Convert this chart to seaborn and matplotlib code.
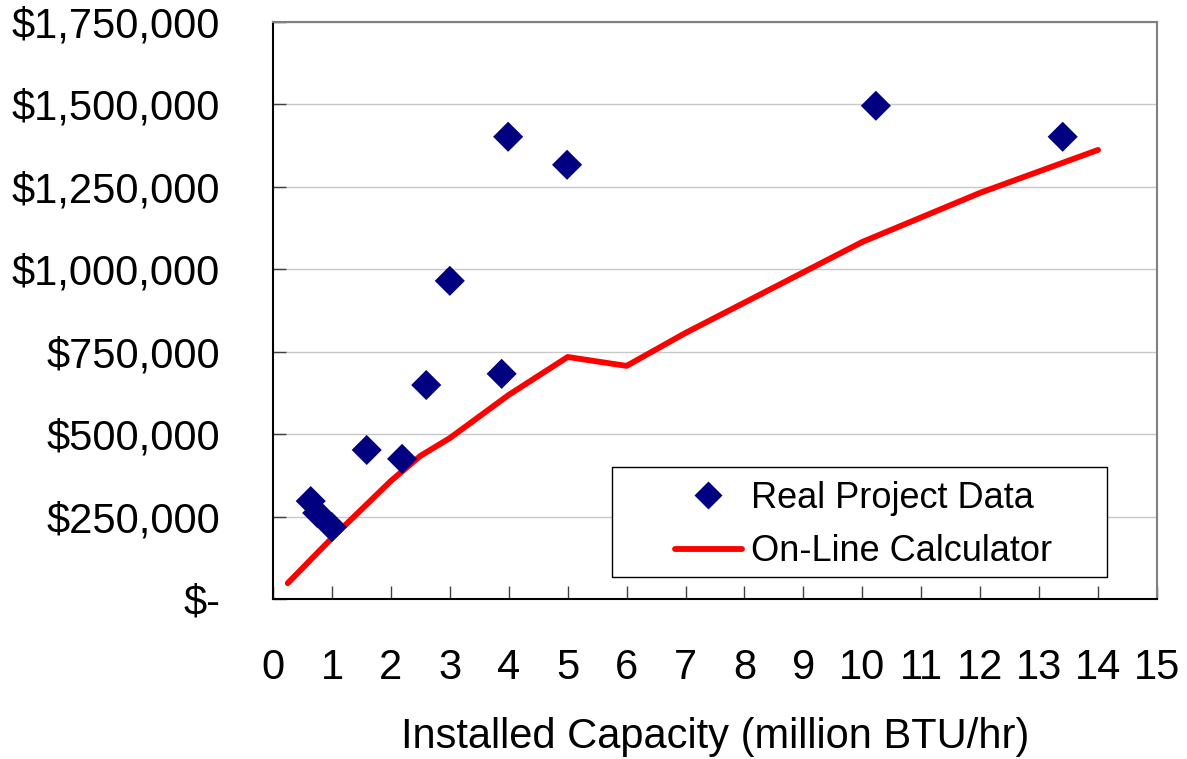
import matplotlib
matplotlib.use("Agg")
import matplotlib.pyplot as plt
from matplotlib.lines import Line2D
from matplotlib.patches import Rectangle
from matplotlib.ticker import FuncFormatter
import seaborn as sns
import pandas as pd

# real project data (capacity in million BTU/hr, cost in $)
project_capacity = [0.64, 0.75, 1.0, 1.59, 2.19, 2.6, 3.0, 3.88, 3.99, 4.99, 10.23, 13.4]
project_cost = [297000, 261000, 218000, 452000, 425000, 649000, 965000, 683000,
                1402000, 1317000, 1496000, 1402000]

# on-line calculator curve
calc_capacity = [0.25, 1, 2, 2.5, 3, 4, 5, 6, 7, 10, 12, 14]
calc_cost = [48000, 185000, 358000, 434000, 488000, 619000, 734000, 707000,
             807000, 1083000, 1232000, 1362000]

x_ticks = list(range(0, 16))
y_ticks = [0, 250000, 500000, 750000, 1000000, 1250000, 1500000, 1750000]

sns.set_style("white")
plt.rcParams['font.family'] = ['Liberation Sans', 'DejaVu Sans']
plt.rcParams['text.color'] = 'black'

proj = pd.DataFrame({'capacity': project_capacity, 'cost': project_cost})
calc = pd.DataFrame({'capacity': calc_capacity, 'cost': calc_cost})

fig = plt.figure(figsize=(11.87, 7.59), dpi=100)
ax = fig.add_axes([0.2300, 0.2108, 0.7447, 0.7602])

sns.lineplot(data=calc, x='capacity', y='cost', ax=ax, color='#ff0000', lw=4.2,
             solid_capstyle='round', zorder=3)
sns.scatterplot(data=proj, x='capacity', y='cost', ax=ax, marker='D', s=235,
                color='#000080', edgecolor='none', linewidth=0, zorder=4)

ax.set_xlim(0, 15)
ax.set_ylim(0, 1750000)
ax.set_xticks(x_ticks)
ax.set_yticks(y_ticks)
ax.yaxis.set_major_formatter(FuncFormatter(lambda v, p: '$-' if v == 0 else f'${v:,.0f}'))

ax.yaxis.grid(True, color='#c8c8c8', lw=1)
ax.xaxis.grid(False)
ax.set_axisbelow(True)

ax.tick_params(axis='both', direction='in', length=9.5, width=1, color='#404040',
               labelsize=30, labelcolor='black', bottom=True, left=True)
ax.tick_params(axis='y', pad=38)
ax.tick_params(axis='x', pad=35)

for side in ['left', 'bottom']:
    ax.spines[side].set_color('black')
    ax.spines[side].set_linewidth(1.5)
for side in ['top', 'right']:
    ax.spines[side].set_color('#808080')
    ax.spines[side].set_linewidth(1.5)

ax.set_xlabel('Installed Capacity (million BTU/hr)', fontsize=30, labelpad=21, color='black')
ax.set_ylabel('')

# legend box drawn as its own rectangle so the padding matches
ax.add_patch(Rectangle((0.3835, 0.038), 0.5600, 0.1906, transform=ax.transAxes,
                       facecolor='white', edgecolor='black', lw=1, zorder=5))
handles = [Line2D([], [], marker='D', ls='none', color='#000080', markersize=14.5, mec='none'),
           Line2D([], [], color='#ff0000', lw=4.2, solid_capstyle='round')]
leg = ax.legend(handles, ['Real Project Data', 'On-Line Calculator'], loc='center',
                bbox_to_anchor=(0.668, 0.128), frameon=False, fontsize=26,
                handlelength=1.85, handletextpad=0.25, labelspacing=0.5, borderpad=0)
leg.set_zorder(6)

fig.savefig('out.png', dpi=100)
